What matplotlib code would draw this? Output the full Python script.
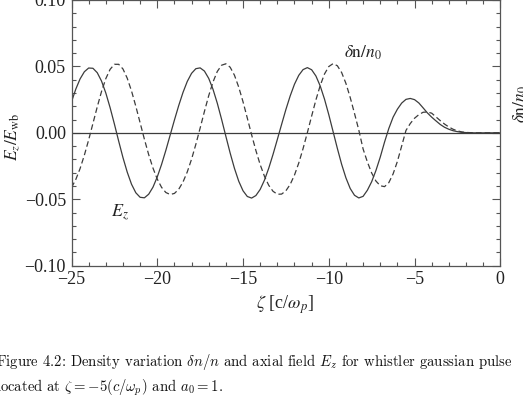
import matplotlib
matplotlib.use('Agg')
import matplotlib.pyplot as plt
from matplotlib.ticker import MultipleLocator

# zeta positions [c/omega_p]
zeta = [-25.0 + 0.25 * i for i in range(93)] + [-1.5, -1.0, -0.5, 0.0]

# axial field Ez/Ewb (solid)
ez = [0.0234, 0.0329, 0.0406, 0.0460, 0.0488, 0.0486, 0.0453, 0.0390, 0.0300, 0.0190,
      0.0067, -0.0062, -0.0186, -0.0296, -0.0387, -0.0451, -0.0485, -0.0489, -0.0462, -0.0409,
      -0.0332, -0.0238, -0.0132, -0.0018, 0.0096, 0.0205, 0.0304, 0.0387, 0.0448, 0.0483,
      0.0489, 0.0465, 0.0410, 0.0328, 0.0223, 0.0102, -0.0026, -0.0152, -0.0267, -0.0364,
      -0.0436, -0.0479, -0.0491, -0.0472, -0.0426, -0.0356, -0.0266, -0.0162, -0.0050, 0.0064,
      0.0176, 0.0278, 0.0366, 0.0433, 0.0476, 0.0491, 0.0475, 0.0428, 0.0353, 0.0254,
      0.0137, 0.0010, -0.0117, -0.0237, -0.0339, -0.0419, -0.0470, -0.0490, -0.0478, -0.0432,
      -0.0368, -0.0283, -0.0183, -0.0070, 0.0033, 0.0118, 0.0178, 0.0224, 0.0252, 0.0259,
      0.0250, 0.0225, 0.0188, 0.0150, 0.0118, 0.0090, 0.0063, 0.0042, 0.0027, 0.0016,
      0.0009, 0.0004, 0.0002, 0.0, 0.0, 0.0, 0.0]

# density variation dn/n0 (dashed)
dn = [-0.0412, -0.0351, -0.0269, -0.0168, -0.0053, 0.0071, 0.0195, 0.0311, 0.0408, 0.0478,
      0.0516, 0.0516, 0.0481, 0.0411, 0.0315, 0.0200, 0.0076, -0.0048, -0.0164, -0.0265,
      -0.0348, -0.0410, -0.0449, -0.0464, -0.0456, -0.0425, -0.0370, -0.0294, -0.0198, -0.0086,
      0.0036, 0.0161, 0.0280, 0.0383, 0.0462, 0.0509, 0.0520, 0.0494, 0.0434, 0.0344,
      0.0234, 0.0111, -0.0014, -0.0133, -0.0239, -0.0327, -0.0395, -0.0440, -0.0462, -0.0461,
      -0.0436, -0.0388, -0.0318, -0.0227, -0.0119, 0.0001, 0.0126, 0.0248, 0.0356, 0.0443,
      0.0499, 0.0521, 0.0505, 0.0454, 0.0372, 0.0266, 0.0146, 0.0021, -0.0121, -0.0219,
      -0.0302, -0.0363, -0.0398, -0.0405, -0.0375, -0.0309, -0.0215, -0.0099, 0.0018, 0.0070,
      0.0110, 0.0137, 0.0155, 0.0157, 0.0148, 0.0120, 0.0092, 0.0066, 0.0044, 0.0027,
      0.0015, 0.0007, 0.0003, 0.0, 0.0, 0.0, 0.0]

xticks = [-25, -20, -15, -10, -5, 0]
yticks = [-0.10, -0.05, 0.00, 0.05, 0.10]

W, H = 523, 395
line_col = '#3c3c3c'
frame_col = '#555555'

plt.rcParams['mathtext.fontset'] = 'stix'
fig = plt.figure(figsize=(W / 100, H / 100), dpi=100)
ax = fig.add_axes([71.5 / W, 1 - 265.7 / H, (500.3 - 71.5) / W, 265.7 / H])

ax.axhline(0, color=line_col, lw=0.9)
ax.plot(zeta, ez, color=line_col, lw=0.9)
ax.plot(zeta, dn, color=line_col, lw=0.9, dashes=(4.5, 2.5))

ax.set_xlim(-25, 0)
ax.set_ylim(-0.10, 0.10)
ax.set_xticks(xticks)
ax.set_xticklabels([f"\u2212{abs(t)}" if t < 0 else str(t) for t in xticks])
ax.set_yticks(yticks)
ax.set_yticklabels([f"\u2212{abs(t):.2f}" if t < 0 else f"{t:.2f}" for t in yticks])
ax.xaxis.set_minor_locator(MultipleLocator(1))
ax.yaxis.set_minor_locator(MultipleLocator(0.01))
ax.tick_params(which='both', direction='in', top=True, right=True, color=frame_col,
               labelsize=13, labelcolor='#222222', width=0.8)
ax.tick_params(which='major', length=5.5, pad=4)
ax.tick_params(which='minor', length=3)
for lab in ax.get_xticklabels() + ax.get_yticklabels():
    lab.set_family('Liberation Serif')
for sp in ax.spines.values():
    sp.set_color(frame_col)
    sp.set_linewidth(0.9)

# axis labels and curve labels
fig.text(13 / W, 1 - 137 / H, r"$E_z/E_{\rm wb}$", rotation=90, ha='center', va='center',
         fontsize=12.5, color='#222222')
fig.text(521 / W, 1 - 104 / H, r"$\delta{\rm n}/n_0$", rotation=90, ha='center', va='center',
         fontsize=12.5, color='#222222')
fig.text(285 / W, 1 - 305 / H, r"$\zeta$ [c/$\omega_p$]", ha='center', va='center',
         fontsize=13, family='Liberation Serif', color='#222222')
ax.text(-8.0, 0.060, r"$\delta{\rm n}/n_0$", ha='center', va='center', fontsize=12.5,
        color='#222222')
ax.text(-22.15, -0.0605, r"$E_z$", ha='center', va='center', fontsize=13, color='#222222')

# caption below the plot
cap1 = r"Figure 4.2: Density variation $\delta n/n$ and axial field $E_z$ for whistler gaussian pulse"
cap2 = r"located at $\zeta = -5(c/\omega_p)$ and $a_0 = 1$."
fig.text(-4 / W, 1 - 362 / H, cap1, ha='left', va='center', fontsize=10.6, family='cmr10',
         math_fontfamily='cm', color='#111111')
fig.text(-4 / W, 1 - 388 / H, cap2, ha='left', va='center', fontsize=10.6, family='cmr10',
         math_fontfamily='cm', color='#111111')

fig.savefig('out.png', dpi=100)
